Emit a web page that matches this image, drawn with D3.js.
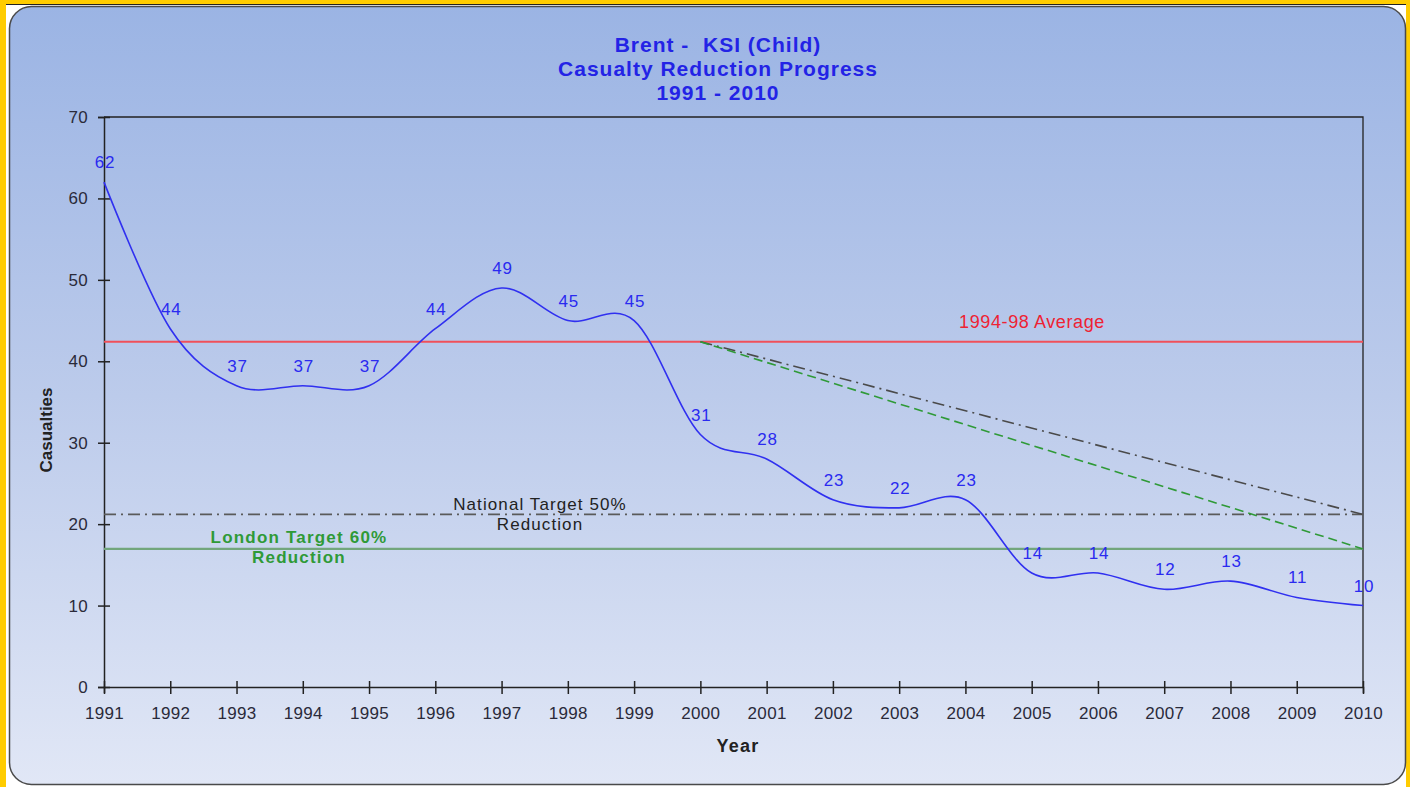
<!DOCTYPE html>
<html>
<head>
<meta charset="utf-8">
<script src="https://cdn.jsdelivr.net/npm/d3@7"></script>
<style>
  html, body { margin: 0; padding: 0; background: #ffcc00; }
  svg { display: block; }
  text { font-family: "Liberation Sans", Arial, sans-serif; white-space: pre; }
</style>
</head>
<body>
<svg id="chart" width="1410" height="787"></svg>
<script>
// Child KSI casualties in Brent, 1991-2010
const years = ["1991","1992","1993","1994","1995","1996","1997","1998","1999","2000",
               "2001","2002","2003","2004","2005","2006","2007","2008","2009","2010"];
const casualties = [62,44,37,37,37,44,49,45,45,31,28,23,22,23,14,14,12,13,11,10];
const yTicks = [0,10,20,30,40,50,60,70];
const titleLines = ["Brent -  KSI (Child)", "Casualty Reduction Progress", "1991 - 2010"];

// Baseline = mean of 1994-98, targets relative to it
const baselineYears = ["1994","1995","1996","1997","1998"];
const baseline = d3.mean(baselineYears, y => casualties[years.indexOf(y)]);
const nationalTarget = baseline * 0.5;
const londonTarget = baseline * 0.4;
const trajectoryStart = "2000";
const trajectoryEnd = "2010";

const svg = d3.select("#chart");
const W = 1410, H = 787;
const m = { left: 104, right: 1363, top: 117, bottom: 687 };

// frame
svg.append("rect").attr("x", 6).attr("y", 4).attr("width", W - 10).attr("height", H - 4).attr("fill", "#ffffff");
svg.append("line").attr("x1", 6).attr("x2", W - 4).attr("y1", 4.5).attr("y2", 4.5).attr("stroke", "#222").attr("stroke-width", 1);

const defs = svg.append("defs");
const grad = defs.append("linearGradient").attr("id", "bg").attr("x1", 0).attr("x2", 0).attr("y1", 0).attr("y2", 1);
grad.append("stop").attr("offset", "0%").attr("stop-color", "#9bb4e4");
grad.append("stop").attr("offset", "50%").attr("stop-color", "#bccbeb");
grad.append("stop").attr("offset", "100%").attr("stop-color", "#e1e7f6");

svg.append("rect")
  .attr("x", 9.5).attr("y", 6.5).attr("width", 1396).attr("height", 778)
  .attr("rx", 22).attr("ry", 22)
  .attr("fill", "url(#bg)").attr("stroke", "#4a4a4a").attr("stroke-width", 1.5);

const x = d3.scalePoint().domain(years).range([m.left, m.right]);
const y = d3.scaleLinear().domain([0, 70]).range([m.bottom, m.top]);

// plot border (top and right)
svg.append("path")
  .attr("d", `M${m.left},${m.top}H${m.right}V${m.bottom}`)
  .attr("fill", "none").attr("stroke", "#222").attr("stroke-width", 1.3);

// axes
const yAxis = svg.append("g").attr("transform", `translate(${m.left},0)`)
  .call(d3.axisLeft(y).tickValues(yTicks).tickSize(6).tickPadding(10));
const xAxis = svg.append("g").attr("transform", `translate(0,${m.bottom})`)
  .call(d3.axisBottom(x).tickSize(6).tickPadding(14));
[yAxis, xAxis].forEach(g => {
  g.select(".domain").attr("stroke", "#222").attr("stroke-width", 1.5);
  g.selectAll(".tick text").attr("font-size", 17).attr("fill", "#2a2a3a")
    .attr("letter-spacing", 0.3)
    .attr("font-family", "'Liberation Sans', Arial, sans-serif");
});
yAxis.selectAll(".tick line").attr("stroke", "#222").attr("stroke-width", 1.5).attr("x1", 6).attr("x2", -6);
xAxis.selectAll(".tick line").attr("stroke", "#222").attr("stroke-width", 1.5).attr("y1", -6).attr("y2", 7);
xAxis.selectAll(".tick text").attr("dy", "0.71em");

// axis titles
svg.append("text").attr("x", 738).attr("y", 752)
  .attr("text-anchor", "middle").attr("font-size", 18).attr("font-weight", "bold").attr("fill", "#222")
  .attr("letter-spacing", 1.2)
  .text("Year");
svg.append("text").attr("transform", `translate(52,${430}) rotate(-90)`)
  .attr("text-anchor", "middle").attr("font-size", 17).attr("font-weight", "bold").attr("fill", "#222")
  .text("Casualties");

// title
svg.append("g").selectAll("text").data(titleLines).join("text")
  .attr("x", 718).attr("y", (d, i) => 52 + i * 24)
  .attr("text-anchor", "middle").attr("font-size", 21).attr("font-weight", "bold")
  .attr("letter-spacing", 1)
  .attr("fill", "#2323e6").text(d => d);

// reference lines
svg.append("line").attr("x1", m.left).attr("x2", m.right)
  .attr("y1", y(baseline)).attr("y2", y(baseline))
  .attr("stroke", "#f0505a").attr("stroke-width", 1.8);
svg.append("line").attr("x1", m.left).attr("x2", m.right)
  .attr("y1", y(nationalTarget)).attr("y2", y(nationalTarget))
  .attr("stroke", "#5a5a5a").attr("stroke-width", 1.6).attr("stroke-dasharray", "12,5,2,5");
svg.append("line").attr("x1", m.left).attr("x2", m.right)
  .attr("y1", y(londonTarget)).attr("y2", y(londonTarget))
  .attr("stroke", "#72a67c").attr("stroke-width", 2.2);

// trajectories from baseline towards each target
svg.append("line").attr("x1", x(trajectoryStart)).attr("y1", y(baseline))
  .attr("x2", x(trajectoryEnd)).attr("y2", y(nationalTarget))
  .attr("stroke", "#4a4a4a").attr("stroke-width", 1.6).attr("stroke-dasharray", "12,5,2,5");
svg.append("line").attr("x1", x(trajectoryStart)).attr("y1", y(baseline))
  .attr("x2", x(trajectoryEnd)).attr("y2", y(londonTarget))
  .attr("stroke", "#2f9a37").attr("stroke-width", 1.6).attr("stroke-dasharray", "9,5");

// reference labels
svg.append("text").attr("x", 1032).attr("y", 328).attr("text-anchor", "middle")
  .attr("font-size", 18).attr("letter-spacing", 0.6)
  .attr("fill", "#ee2233").text("1994-98 Average");
svg.append("g").selectAll("text").data(["National Target 50%", "Reduction"]).join("text")
  .attr("x", 540).attr("y", (d, i) => 510 + i * 20).attr("text-anchor", "middle")
  .attr("font-size", 17).attr("letter-spacing", 1.1)
  .attr("fill", "#222").text(d => d);
svg.append("g").selectAll("text").data(["London Target 60%", "Reduction"]).join("text")
  .attr("x", 299).attr("y", (d, i) => 543 + i * 20).attr("text-anchor", "middle")
  .attr("font-size", 17).attr("font-weight", "bold").attr("letter-spacing", 1.2)
  .attr("fill", "#2f9a37").text(d => d);

// casualty series
const line = d3.line()
  .x((d, i) => x(years[i]))
  .y(d => y(d))
  .curve(d3.curveCatmullRom.alpha(0));
svg.append("path").datum(casualties)
  .attr("d", line).attr("fill", "none")
  .attr("stroke", "#3030f0").attr("stroke-width", 1.6);

svg.append("g").selectAll("text").data(casualties).join("text")
  .attr("x", (d, i) => x(years[i]) + 1)
  .attr("y", d => y(d) - 14)
  .attr("text-anchor", "middle").attr("font-size", 17).attr("letter-spacing", 0.8)
  .attr("fill", "#2a2af0")
  .text(d => d);
</script>
</body>
</html>
